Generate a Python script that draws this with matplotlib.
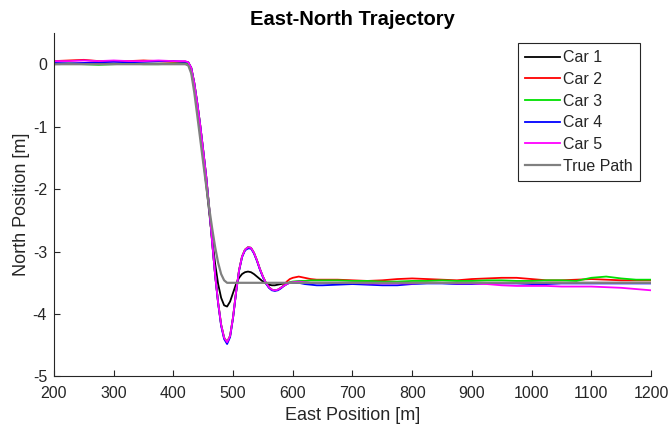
import matplotlib
matplotlib.use("Agg")
import matplotlib.pyplot as plt

plt.rcParams['font.family'] = ['Liberation Sans', 'DejaVu Sans']

# ---------------- data ----------------
east = [200, 225, 250, 275, 300, 325, 350, 375, 400, 415, 420,
        425, 430, 435, 440, 445, 450, 455, 460, 465, 470, 475, 480, 485, 490,
        495, 500, 505, 510, 515, 520, 525, 530, 535, 540, 545, 550, 555, 560,
        565, 570, 575, 580, 585, 590, 595, 600, 610, 620, 630, 640, 650,
        675, 700, 725, 750, 775, 800, 825, 850, 875, 900, 925, 950, 975, 1000,
        1025, 1050, 1075, 1100, 1125, 1150, 1175, 1200]

car1 = [0.01, 0.01, 0.01, 0.01, 0.01, 0.01, 0.01, 0.01, 0.01, 0.01, 0.01,
        0.0, -0.12, -0.38, -0.72, -1.1, -1.5, -1.93, -2.37, -2.8, -3.2, -3.52, -3.74, -3.86, -3.88,
        -3.8, -3.66, -3.52, -3.42, -3.36, -3.33, -3.32, -3.33, -3.36, -3.4, -3.44, -3.48, -3.51, -3.53,
        -3.54, -3.54, -3.53, -3.52, -3.51, -3.5, -3.5, -3.5, -3.5, -3.5, -3.5, -3.5, -3.5,
        -3.5, -3.5, -3.5, -3.5, -3.5, -3.5, -3.5, -3.5, -3.5, -3.5, -3.5, -3.5, -3.5, -3.5,
        -3.5, -3.5, -3.5, -3.5, -3.5, -3.5, -3.5, -3.5]

car2 = [0.05, 0.06, 0.07, 0.05, 0.05, 0.05, 0.06, 0.05, 0.04, 0.04, 0.04,
        0.03, -0.06, -0.3, -0.62, -0.98, -1.38, -1.8, -2.3, -2.85, -3.38, -3.82, -4.17, -4.38, -4.45,
        -4.35, -4.05, -3.65, -3.3, -3.08, -2.97, -2.93, -2.94, -3.02, -3.14, -3.28, -3.4, -3.5, -3.57,
        -3.61, -3.62, -3.61, -3.58, -3.54, -3.48, -3.44, -3.42, -3.4, -3.42, -3.44, -3.45, -3.45,
        -3.45, -3.46, -3.47, -3.46, -3.44, -3.43, -3.44, -3.45, -3.46, -3.44, -3.43, -3.42, -3.42, -3.44,
        -3.46, -3.46, -3.45, -3.44, -3.45, -3.46, -3.46, -3.46]

car3 = [0.0, 0.01, 0.0, -0.01, 0.0, 0.01, 0.0, 0.0, 0.01, 0.01, 0.01,
        0.02, -0.06, -0.3, -0.62, -0.98, -1.38, -1.8, -2.3, -2.85, -3.38, -3.82, -4.17, -4.38, -4.45,
        -4.35, -4.05, -3.65, -3.3, -3.08, -2.97, -2.93, -2.94, -3.02, -3.14, -3.28, -3.4, -3.5, -3.57,
        -3.61, -3.62, -3.61, -3.58, -3.55, -3.52, -3.49, -3.48, -3.47, -3.47, -3.46, -3.46, -3.46,
        -3.46, -3.47, -3.47, -3.48, -3.48, -3.47, -3.47, -3.46, -3.47, -3.47, -3.46, -3.46, -3.47, -3.47,
        -3.46, -3.46, -3.47, -3.42, -3.4, -3.43, -3.45, -3.45]

car4 = [0.02, 0.01, 0.02, 0.03, 0.04, 0.03, 0.04, 0.05, 0.05, 0.04, 0.04,
        0.03, -0.06, -0.3, -0.62, -0.98, -1.38, -1.8, -2.3, -2.85, -3.38, -3.83, -4.19, -4.4, -4.48,
        -4.37, -4.06, -3.66, -3.31, -3.09, -2.98, -2.95, -2.95, -3.03, -3.15, -3.29, -3.41, -3.51, -3.58,
        -3.62, -3.63, -3.62, -3.59, -3.55, -3.52, -3.5, -3.5, -3.5, -3.52, -3.53, -3.54, -3.54,
        -3.53, -3.52, -3.53, -3.54, -3.54, -3.52, -3.51, -3.51, -3.52, -3.52, -3.51, -3.51, -3.51, -3.52,
        -3.52, -3.51, -3.51, -3.51, -3.51, -3.51, -3.51, -3.51]

car5 = [0.05, 0.05, 0.06, 0.05, 0.06, 0.05, 0.05, 0.06, 0.05, 0.05, 0.05,
        0.03, -0.06, -0.3, -0.62, -0.98, -1.38, -1.8, -2.3, -2.85, -3.38, -3.82, -4.17, -4.38, -4.45,
        -4.35, -4.05, -3.65, -3.3, -3.08, -2.97, -2.93, -2.94, -3.02, -3.14, -3.28, -3.4, -3.5, -3.57,
        -3.61, -3.62, -3.61, -3.58, -3.55, -3.52, -3.5, -3.49, -3.48, -3.49, -3.5, -3.5, -3.5,
        -3.5, -3.5, -3.51, -3.51, -3.51, -3.51, -3.5, -3.5, -3.51, -3.51, -3.52, -3.54, -3.55, -3.55,
        -3.55, -3.56, -3.56, -3.56, -3.57, -3.58, -3.6, -3.62]

true_east = [200, 420, 425, 430, 435, 440, 445, 450, 455, 460, 465, 470, 475, 480, 485, 490, 1200]
true_north = [0, 0, -0.02, -0.15, -0.45, -0.82, -1.2, -1.58, -1.95, -2.3, -2.63, -2.93, -3.18, -3.36, -3.46, -3.5, -3.5]

labels = ['Car 1', 'Car 2', 'Car 3', 'Car 4', 'Car 5', 'True Path']
colors = ['#000000', '#ff0000', '#00e000', '#0000ff', '#ff00ff', '#808080']
x_ticks = [200, 300, 400, 500, 600, 700, 800, 900, 1000, 1100, 1200]
y_ticks = [0, -1, -2, -3, -4, -5]

# ---------------- figure ----------------
fig = plt.figure(figsize=(6.68, 4.29), dpi=100)
ax = fig.add_axes([0.0808, 0.1224, 0.8937, 0.8007])

series = [car1, car2, car3, car4, car5]
for ys, lab, col in zip(series, labels[:5], colors[:5]):
    ax.plot(east, ys, color=col, lw=1.3, label=lab)
ax.plot(true_east, true_north, color=colors[5], lw=1.6, label=labels[5])

ax.set_xlim(200, 1200)
ax.set_ylim(-5, 0.5)
ax.set_xticks(x_ticks)
ax.set_yticks(y_ticks)
ax.set_yticklabels([str(v) for v in y_ticks])

axcol = '#262626'
for s in ['top', 'right']:
    ax.spines[s].set_visible(False)
for s in ['left', 'bottom']:
    ax.spines[s].set_color(axcol)
    ax.spines[s].set_linewidth(0.8)
ax.tick_params(direction='in', length=4, width=0.8, colors=axcol, labelsize=11.5)
ax.tick_params(axis='x', pad=7)
ax.tick_params(axis='y', pad=5)

ax.set_xlabel('East Position [m]', fontsize=13, color=axcol, labelpad=4)
ax.set_ylabel('North Position [m]', fontsize=13, color=axcol, labelpad=2)
ax.set_title('East-North Trajectory', fontsize=14.5, fontweight='bold', color='black', pad=6)

leg = ax.legend(loc='upper right', bbox_to_anchor=(640 / 668, 1 - 43 / 429),
                bbox_transform=fig.transFigure, borderaxespad=0, fontsize=11.5,
                handlelength=2.2, handletextpad=0.2, labelspacing=0.42,
                borderpad=0.45, fancybox=False, framealpha=1)
leg.get_frame().set_edgecolor(axcol)
leg.get_frame().set_linewidth(0.8)
for t in leg.get_texts():
    t.set_color(axcol)

fig.savefig('out.png', dpi=100)
